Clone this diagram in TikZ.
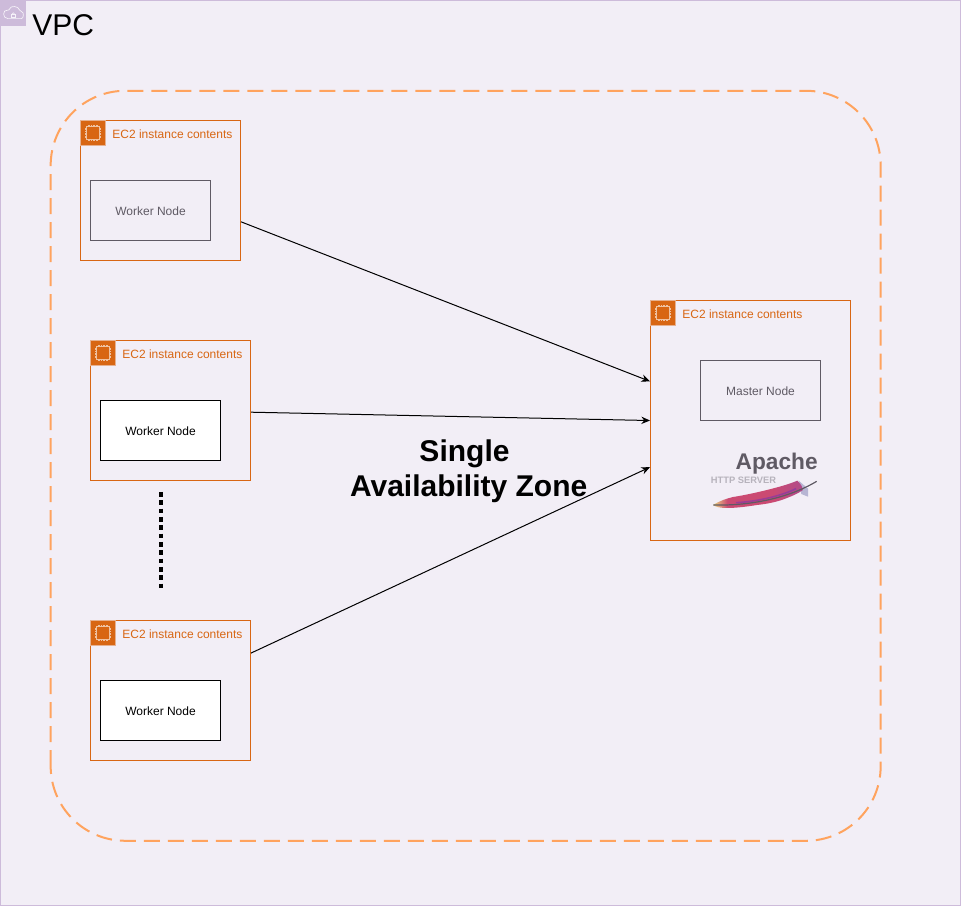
\documentclass[tikz,border=0pt]{standalone}
\usepackage{fontspec}
\setmainfont{Liberation Sans}
\usetikzlibrary{positioning,arrows.meta}
\definecolor{vpcfill}{HTML}{F2EEF6}
\definecolor{vpcline}{HTML}{CDBBDA}
\definecolor{zoneline}{HTML}{FFA35E}
\definecolor{ec2orange}{HTML}{D86613}
\definecolor{nodegrey}{HTML}{5F5A64}
\definecolor{feathertip}{HTML}{E8C87E}
\definecolor{feathermid}{HTML}{CB4A72}
\definecolor{featherend}{HTML}{B04A8A}
\pgfdeclarehorizontalshading{feather}{100bp}{color(0bp)=(feathertip); color(26bp)=(feathertip);
  color(33bp)=(feathermid); color(58bp)=(feathermid); color(75bp)=(featherend); color(100bp)=(featherend)}
\tikzstyle{ec2box}=[draw=ec2orange,line width=.75pt,inner sep=0pt]
\tikzstyle{ec2tag}=[fill=ec2orange,draw=ec2orange!45!vpcfill,line width=.3pt,inner sep=0pt,minimum size=18.75pt,anchor=north west]
\tikzstyle{ec2text}=[text=ec2orange,font=\fontsize{9}{11}\selectfont,inner sep=0pt,anchor=west]
\tikzstyle{worker}=[draw=black,fill=white,line width=.75pt,inner sep=0pt,minimum width=90pt,minimum height=45pt,text height=8pt,font=\fontsize{9}{11}\selectfont]
\tikzstyle{worker2}=[worker,draw=nodegrey,fill=none,text=nodegrey]
\tikzstyle{link}=[-{Stealth[length=6.5pt,width=5.5pt]},line width=.75pt]
\tikzset{chip/.pic={
  \draw[white!60!ec2orange,line width=.6pt,fill=ec2orange] (-4.8,-4.8) rectangle (4.8,4.8);
  \foreach \p in {-3.6,-2.4,...,3.7} {
    \draw[white!60!ec2orange,line width=.25pt] (\p,4.8) -- (\p,5.9) (\p,-4.8) -- (\p,-5.9)
      (4.8,\p) -- (5.9,\p) (-4.8,\p) -- (-5.9,\p);
  }
}}

\begin{document}
\begin{tikzpicture}[x=1pt,y=1pt]
  \useasboundingbox (0,0) rectangle (720.75,679.5);
  \draw[vpcline,fill=vpcfill,line width=.75pt] (.4,.4) rectangle (720.35,679.1);

  % vpc corner
  \node[fill=vpcline,inner sep=0pt,minimum size=18.75pt,anchor=north west] (tag) at (.4,679.1) {};
  \draw[vpcfill!70!white,line width=.5pt,rounded corners=1.5pt]
    ([xshift=-4pt,yshift=-4pt]tag.center) -- ([xshift=4.5pt,yshift=-4pt]tag.center)
    .. controls ([xshift=8pt,yshift=-4pt]tag.center) and ([xshift=8pt,yshift=1pt]tag.center) .. ([xshift=5pt,yshift=1pt]tag.center)
    .. controls ([xshift=4pt,yshift=5.5pt]tag.center) and ([xshift=-2pt,yshift=6pt]tag.center) .. ([xshift=-3pt,yshift=2pt]tag.center)
    .. controls ([xshift=-8pt,yshift=3pt]tag.center) and ([xshift=-8.5pt,yshift=-4pt]tag.center) .. ([xshift=-4pt,yshift=-4pt]tag.center);
  \draw[vpcfill!70!white,line width=.4pt] ([xshift=-1.5pt,yshift=-3pt]tag.center) rectangle ([xshift=1.5pt,yshift=-.6pt]tag.center);
  \draw[vpcfill!70!white,line width=.4pt] ([xshift=-1pt,yshift=-.6pt]tag.center) arc (180:0:1pt);
  \node[font=\fontsize{22.5}{26}\selectfont,inner sep=0pt,anchor=base west] (vpc) at (24,652.6) {VPC};

  \draw[zoneline,line width=1.5pt,rounded corners=56pt,dash pattern=on 12pt off 6pt]
    (38,48.9) rectangle (660.5,611.4);

  \node[ec2box,minimum width=120pt,minimum height=105pt] (ec2a) at (120.4,536.6) {};
  \node[ec2box,minimum width=120pt,minimum height=105pt] (ec2b) at (127.9,371.6) {};
  \node[ec2box,minimum width=120pt,minimum height=105pt] (ec2c) at (127.9,161.6) {};
  \node[ec2box,minimum width=150pt,minimum height=180pt] (ec2m) at (562.9,364.1) {};

  \foreach \b in {ec2a,ec2b,ec2c,ec2m} {
    \node[ec2tag] (\b-tag) at (\b.north west) {};
    \pic at (\b-tag.center) {chip};
    \node[ec2text,right=5pt of \b-tag,yshift=-1.2pt] (\b-text) {EC2 instance contents};
  }

  \node[worker2] (wa) at (112.9,521.6) {Worker Node};
  \node[worker] (wb) at (120.4,356.6) {Worker Node};
  \node[worker] (wc) at (120.4,146.6) {Worker Node};
  \node[worker2] (master) at (570.4,386.6) {Master Node};

  \draw[link] (ec2a) -- (ec2m);
  \draw[link] (ec2b) -- (ec2m.west);
  \draw[link] (ec2c) -- (ec2m);

  \coordinate (dots1) at (120.75,310.5);
  \coordinate (dots2) at (120.75,238.5);
  \draw[line width=3.2pt,dash pattern=on 3.5pt off 2.75pt] (dots1) -- (dots2);

  \node[font=\bfseries\fontsize{22.5}{26.25}\selectfont,align=center,inner sep=0pt] (zone) at (351.5,326) {Single\kern6.25pt\relax\\Availability Zone};

  % apache logo
  \node[font=\bfseries\fontsize{17}{20}\selectfont,text=nodegrey,inner sep=0pt] (apache) at (582.5,332) {Apache};
  \node[font=\bfseries\fontsize{7}{8}\selectfont,text=nodegrey!40!vpcfill,inner sep=0pt,anchor=west] (http) at (533,319) {HTTP SERVER};
  \fill[blue!25!gray!40!vpcfill] (599,319) -- (606,313) -- (606,307) -- (601,309) -- cycle;
  \shade[shading=feather]
    (534.75,300.75) .. controls (540,304) and (545,305.5) .. (549.75,306.75)
    .. controls (558,308) and (567,310) .. (575.25,312)
    .. controls (583,314) and (591,316) .. (598,319)
    .. controls (601,316) and (602,314) .. (602.25,312)
    .. controls (598,309) and (594,307.5) .. (590.25,306)
    .. controls (583,303) and (575,301.5) .. (567.75,300.75)
    .. controls (560,299.5) and (552,298.5) .. (545.25,298.5)
    .. controls (541,298.5) and (537,299) .. (534.75,300.75);
  \draw[featherend!70!blue,line width=1.2pt,opacity=.6] (552,302.5) .. controls (565,303) and (585,307) .. (597,313);
  \draw[nodegrey,line width=.9pt] (535,300.8) .. controls (560,300) and (590,305) .. (612.5,318.5);
\end{tikzpicture}
\end{document}
